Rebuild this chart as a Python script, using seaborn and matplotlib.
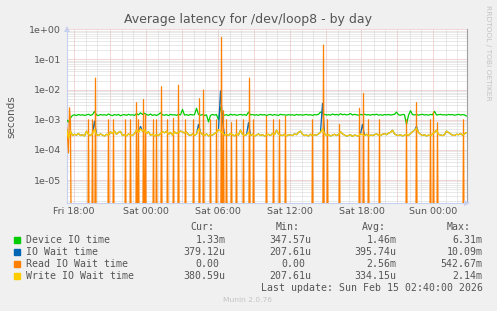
import numpy as np
import pandas as pd
import matplotlib
matplotlib.use("Agg")
import matplotlib.pyplot as plt
import matplotlib.dates as mdates
from matplotlib.ticker import LogLocator, FuncFormatter, NullFormatter
import seaborn as sns

sns.set_theme(style="white")
plt.rcParams['font.family'] = ['DejaVu Sans']

# ---------------- data ----------------
title = "Average latency for /dev/loop8 - by day"
y_label = "seconds"
series_names = ["Device IO time", "IO Wait time", "Read IO Wait time", "Write IO Wait time"]
series_colors = ["#00CC00", "#0066B3", "#FF8000", "#FFCC00"]
cur_vals = ["1.33m", "379.12u", "0.00", "380.59u"]
min_vals = ["347.57u", "207.61u", "0.00", "207.61u"]
avg_vals = ["1.46m", "395.74u", "2.56m", "334.15u"]
max_vals = ["6.31m", "10.09m", "542.67m", "2.14m"]
last_update = "Last update: Sun Feb 15 02:40:00 2026"
footer = "Munin 2.0.76"
side_text = "RRDTOOL / TOBI OETIKER"

x_start = "2026-02-13 17:26"
x_end = "2026-02-15 02:46"
sample_start = "2026-02-13 17:25"

# Device IO time, microseconds, every 10 minutes
device_us = [
    1000, 850, 1150, 1400, 1450, 1380, 1500, 1420, 1470, 1390,
    1450, 1520, 1400, 1480, 1900, 1450, 1380, 1500, 1430, 1470,
    1410, 1550, 1440, 1380, 1490, 1420, 1500, 1360, 1450, 1480,
    1400, 1520, 1430, 1470, 1390, 1600, 1450, 1700, 1500, 1650,
    1480, 1420, 1550, 1400, 1470, 1390, 1500, 1700, 1450, 1420,
    1480, 1380, 1510, 1440, 1470, 1400, 1520, 1450, 2200, 1430,
    1480, 1400, 1500, 1440, 1470, 2400, 1500, 1420, 1480, 1390,
    1450, 850, 1400, 1500, 1430, 1480, 1000, 2600, 1500, 1420,
    1470, 1380, 1520, 1440, 1490, 1410, 1460, 1500, 1430, 1480,
    1400, 1800, 1450, 1490, 1420, 1470, 1400, 1510, 1440, 1480,
    1390, 1460, 1500, 1420, 1480, 1440, 1400, 1520, 1450, 1470,
    1410, 1490, 1430, 1470, 1400, 1500, 1440, 1480, 1420, 1460,
    1500, 1430, 1470, 1400, 1490, 1450, 1520, 1800, 1700, 1500,
    1440, 1480, 1420, 1550, 1460, 1500, 1430, 1580, 1470, 1520,
    1450, 1490, 1600, 1440, 1510, 1470, 1420, 1500, 1460, 1530,
    1440, 1480, 1420, 1500, 1460, 1520, 1430, 1470, 1410, 1490,
    1450, 1500, 1430, 1480, 1520, 1800, 1460, 1420, 1500, 1470,
    700, 1400, 2000, 1480, 1450, 1500, 1430, 1470, 1520, 1440,
    1480, 1420, 1500, 1460, 1900, 1440, 1480, 1510, 1450, 1470,
    1430, 1500, 1460, 1490, 1420, 1470, 1510, 1440, 1480, 1450,
    1330,
]

# IO Wait time, microseconds, every 10 minutes
iowait_us = [
    500, 250, 420, 300, 330, 310, 350, 300, 320, 290,
    420, 330, 300, 350, 900, 320, 300, 340, 310, 290,
    330, 310, 400, 350, 420, 330, 380, 410, 300, 320,
    290, 340, 310, 300, 350, 450, 380, 600, 420, 470,
    350, 400, 310, 330, 290, 320, 300, 350, 400, 370,
    420, 330, 380, 310, 400, 350, 380, 420, 400, 360,
    390, 320, 300, 340, 310, 330, 700, 380, 320, 300,
    340, 290, 320, 310, 350, 380, 470, 9000, 900, 310,
    330, 300, 350, 320, 290, 340, 310, 450, 330, 300,
    320, 800, 300, 330, 290, 310, 340, 300, 320, 290,
    310, 330, 300, 350, 320, 450, 340, 310, 300, 330,
    290, 320, 310, 300, 340, 320, 380, 420, 330, 300,
    310, 290, 330, 300, 320, 310, 340, 380, 3500, 350,
    300, 320, 290, 310, 330, 300, 320, 400, 340, 310,
    290, 300, 320, 280, 310, 300, 290, 340, 700, 300,
    330, 290, 310, 300, 320, 340, 310, 300, 330, 350,
    320, 360, 380, 450, 340, 310, 300, 320, 290, 310,
    330, 300, 350, 400, 450, 600, 380, 330, 300, 320,
    290, 310, 300, 340, 380, 450, 330, 310, 300, 320,
    420, 380, 340, 310, 300, 330, 320, 350, 310, 340,
    379,
]

# Write IO Wait time, microseconds, every 10 minutes
write_us = [
    500, 250, 420, 300, 330, 310, 350, 300, 320, 290,
    420, 330, 300, 350, 470, 320, 300, 340, 310, 290,
    330, 310, 400, 350, 420, 330, 380, 410, 300, 320,
    290, 340, 310, 300, 350, 450, 380, 500, 420, 470,
    350, 400, 310, 330, 290, 320, 300, 350, 400, 370,
    420, 330, 380, 310, 400, 350, 380, 420, 400, 360,
    390, 320, 300, 340, 310, 330, 500, 380, 320, 300,
    340, 290, 320, 310, 350, 380, 470, 420, 360, 310,
    330, 300, 350, 320, 290, 340, 310, 450, 330, 300,
    320, 380, 300, 330, 290, 310, 340, 300, 320, 290,
    310, 330, 300, 350, 320, 450, 340, 310, 300, 330,
    290, 320, 310, 300, 340, 320, 380, 420, 330, 300,
    310, 290, 330, 300, 320, 310, 340, 380, 500, 350,
    300, 320, 290, 310, 330, 300, 320, 400, 340, 310,
    290, 300, 320, 280, 310, 300, 290, 340, 320, 300,
    330, 290, 310, 300, 320, 340, 310, 300, 330, 350,
    320, 360, 380, 450, 340, 310, 300, 320, 290, 310,
    330, 300, 350, 400, 450, 520, 380, 330, 300, 320,
    290, 310, 300, 340, 380, 450, 330, 310, 300, 320,
    420, 380, 340, 310, 300, 330, 320, 350, 310, 340,
    381,
]

# Read IO Wait time: non-zero 5-minute samples (seconds); all others are 0
read_times = [
    "2026-02-13 17:25", "2026-02-13 17:30", "2026-02-13 17:35", "2026-02-13 17:40",
    "2026-02-13 17:45", "2026-02-13 19:15", "2026-02-13 19:35", "2026-02-13 19:50",
    "2026-02-13 20:55", "2026-02-13 21:20", "2026-02-13 22:20", "2026-02-13 22:45",
    "2026-02-13 23:15", "2026-02-13 23:25", "2026-02-13 23:50",
    "2026-02-14 00:00", "2026-02-14 00:40", "2026-02-14 00:55", "2026-02-14 01:20",
    "2026-02-14 01:50", "2026-02-14 02:20", "2026-02-14 02:45", "2026-02-14 03:20",
    "2026-02-14 04:00", "2026-02-14 04:30", "2026-02-14 04:50", "2026-02-14 05:25",
    "2026-02-14 05:55", "2026-02-14 06:20", "2026-02-14 06:30", "2026-02-14 06:45",
    "2026-02-14 07:10", "2026-02-14 07:35", "2026-02-14 08:10", "2026-02-14 08:40",
    "2026-02-14 09:00", "2026-02-14 10:05", "2026-02-14 10:40", "2026-02-14 11:10",
    "2026-02-14 11:40", "2026-02-14 13:55", "2026-02-14 14:50", "2026-02-14 15:10",
    "2026-02-14 16:10", "2026-02-14 17:50", "2026-02-14 18:10", "2026-02-14 18:35",
    "2026-02-14 19:30", "2026-02-14 21:45", "2026-02-14 22:35", "2026-02-14 23:45",
    "2026-02-15 00:00", "2026-02-15 00:20", "2026-02-15 02:30",
]
read_values = [
    6e-4, 3e-4, 8e-5, 2.5e-3,
    8e-4, 1e-3, 1e-3, 2.4e-2,
    1e-3, 1e-3, 1e-3, 1e-3,
    3.7e-3, 1e-3, 4.7e-3,
    1.5e-3, 1e-3, 1e-3, 1.25e-2,
    1e-3, 1.1e-3, 1.4e-2, 1e-3,
    1e-3, 5e-3, 9.7e-3, 1e-3,
    1e-3, 0.54267, 2e-3, 1e-3,
    8e-4, 1e-3, 1e-3, 2.4e-2,
    1e-3, 1.3e-3, 1e-3, 1e-3,
    1.3e-3, 1e-3, 0.30, 1e-3,
    7e-4, 2.4e-3, 7.5e-3, 1e-3,
    1e-3, 1e-3, 3.7e-3, 1e-3,
    1.8e-3, 8e-4, 1e-3,
]

# ---------------- build frames ----------------
t10 = pd.date_range(sample_start, periods=len(device_us), freq="10min")
t5 = pd.date_range(sample_start, x_end, freq="5min")
read_series = pd.Series(0.0, index=t5)
read_series.loc[pd.to_datetime(read_times)] = read_values

W, H = 497, 311
fig = plt.figure(figsize=(W / 100, H / 100), dpi=100)
fig.patch.set_facecolor("#F0F0F0")
ax = fig.add_axes([66.7 / W, 1 - 203 / H, 400 / W, (203 - 29.3) / H])
ax.set_facecolor("white")

text_col = "#555555"
lw = 0.9
floor = 1e-9  # zero values drawn to the bottom like rrdtool

sns.lineplot(x=t10, y=np.array(device_us) * 1e-6, ax=ax, color=series_colors[0],
             lw=lw, estimator=None, sort=False, zorder=3)
sns.lineplot(x=t10, y=np.array(iowait_us) * 1e-6, ax=ax, color=series_colors[1],
             lw=lw, estimator=None, sort=False, zorder=4)
rv = read_series.values
sns.lineplot(x=read_series.index, y=np.where(rv > 0, rv, floor), ax=ax,
             color=series_colors[2], lw=lw, estimator=None, sort=False, zorder=5)
sns.lineplot(x=t10, y=np.array(write_us) * 1e-6, ax=ax, color=series_colors[3],
             lw=1.0, estimator=None, sort=False, zorder=6)

ax.set_yscale("log")
ax.set_ylim(10 ** -5.76, 1.0)
ax.set_xlim(pd.Timestamp(x_start), pd.Timestamp(x_end))

# y ticks
ax.yaxis.set_major_locator(LogLocator(base=10, numticks=20))
ax.yaxis.set_minor_locator(LogLocator(base=10, subs=np.arange(2, 10), numticks=20))
ax.yaxis.set_major_formatter(FuncFormatter(lambda v, p: f"{v:.0e}"))
ax.yaxis.set_minor_formatter(NullFormatter())

# x ticks
ax.xaxis.set_major_locator(mdates.HourLocator(byhour=range(0, 24, 3)))
ax.xaxis.set_minor_locator(mdates.HourLocator())


def xfmt(v, p):
    d = mdates.num2date(v)
    return d.strftime("%a %H:%M") if d.hour % 6 == 0 else ""


ax.xaxis.set_major_formatter(FuncFormatter(xfmt))

ax.tick_params(axis="both", which="both", length=0, labelsize=6.8, labelcolor=text_col)
ax.tick_params(axis="y", pad=4)
ax.tick_params(axis="x", pad=3)

dots = (0, (1, 1))
ax.grid(which="minor", color="#D4D4D4", lw=0.72, linestyle=dots, zorder=0)
ax.grid(which="major", color="#E8B0B0", lw=0.72, linestyle=dots, zorder=1)
ax.set_axisbelow(True)

ax.spines["top"].set_visible(False)
ax.spines["right"].set_color("#A0A0A0")
ax.spines["right"].set_linewidth(0.8)
ax.spines["left"].set_color("#C8D0F0")
ax.spines["bottom"].set_color("#C8D0F0")
ax.spines["left"].set_linewidth(0.8)
ax.spines["bottom"].set_linewidth(0.8)

# axis arrows
ax.plot([0], [1.0], marker="^", markersize=4, color="#C8D0F0", transform=ax.transAxes,
        clip_on=False, zorder=10, markeredgewidth=0)
ax.plot([1.0], [0], marker=">", markersize=4, color="#C8D0F0", transform=ax.transAxes,
        clip_on=False, zorder=10, markeredgewidth=0)

ax.set_ylabel(y_label, fontsize=7.5, color=text_col, labelpad=9)
ax.set_xlabel("")

# title and side text
fig.text(248 / W, 1 - 19 / H, title, ha="center", va="center", fontsize=9, color=text_col)
fig.text(488 / W, 1 - 53 / H, side_text, ha="center", va="center", rotation=270,
         fontsize=5.4, color="#C4C4C4")

# legend
mono = "DejaVu Sans Mono"
fs = 7.1
cw = fs * 100 / 72 * 0.602


def ftext(x, y, s, **kw):
    fig.text(x / W, 1 - y / H, s, va="center", family=mono, fontsize=fs, color=text_col, **kw)


ftext(190, 227.3, "Cur:")
ftext(275.7, 227.3, "Min:")
ftext(361.7, 227.3, "Avg:")
ftext(446.7, 227.3, "Max:")
col_right = [225.7, 311.3, 396.7, 482.7]
rows_y = [240, 252, 264, 276]
for i, name in enumerate(series_names):
    y = rows_y[i]
    fig.add_artist(plt.Rectangle((14 / W, 1 - (y + 3) / H), 6 / W, 6 / H,
                                 transform=fig.transFigure, color=series_colors[i]))
    ftext(26, y, name)
    for c, vals in enumerate([cur_vals, min_vals, avg_vals, max_vals]):
        v = vals[i]
        r = col_right[c] - (cw if v[-1].isdigit() else 0)
        ftext(r, y, v, ha="right")

ftext(482.7, 287.7, last_update, ha="right")
fig.text(247.7 / W, 1 - 300 / H, footer, ha="center", va="center", fontsize=5.4, color="#C4C4C4")

fig.savefig("out.png", dpi=100, facecolor=fig.get_facecolor())
